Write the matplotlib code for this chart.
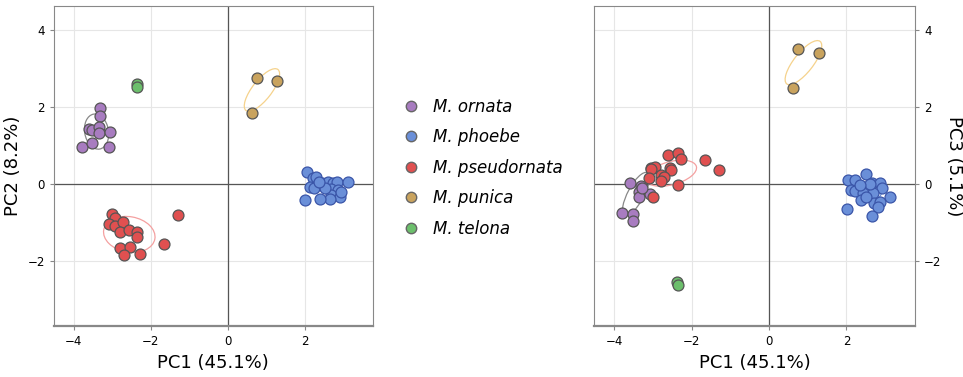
import numpy as np
import matplotlib.pyplot as plt
from matplotlib.patches import Ellipse
from matplotlib.lines import Line2D

species = ['M. ornata', 'M. phoebe', 'M. pseudornata', 'M. punica', 'M. telona']
colors = ['#a87cc0', '#6a8fd8', '#e05050', '#c9a35e', '#6cbf6c']
edges = ['#555555', '#3a55a8', '#555555', '#555555', '#555555']
ell_colors = ['#888888', '#6a8fd8', '#f4a0a0', '#f5d28c', '#6cbf6c']

# PC1 / PC2 scores
pc1_ornata = [-3.31, -3.32, -3.61, -3.52, -3.35, -3.35, -3.05, -3.80, -3.52, -3.09]
pc2_ornata = [1.98, 1.77, 1.42, 1.40, 1.47, 1.33, 1.35, 0.97, 1.06, 0.95]
pc1_phoebe = [2.05, 2.22, 2.29, 2.13, 2.25, 2.44, 2.61, 2.74, 2.85, 3.13, 2.69, 2.88,
              2.69, 2.91, 2.65, 2.39, 2.02, 2.52, 2.37, 2.95]
pc2_phoebe = [0.31, 0.15, 0.19, -0.07, -0.11, 0.02, 0.06, 0.03, 0.06, 0.05, -0.14, -0.16,
              -0.29, -0.33, -0.40, -0.39, -0.42, -0.11, 0.06, -0.20]
pc1_pseud = [-3.00, -2.92, -3.09, -2.94, -2.72, -2.79, -2.57, -2.36, -2.36, -2.79, -2.53,
             -2.70, -2.27, -1.65, -1.30]
pc2_pseud = [-0.79, -0.89, -1.04, -1.09, -0.98, -1.24, -1.19, -1.24, -1.37, -1.67, -1.63,
             -1.84, -1.83, -1.56, -0.81]
pc1_punica = [0.75, 1.29, 0.63]
pc2_punica = [2.74, 2.67, 1.85]
pc1_telona = [-2.37, -2.35]
pc2_telona = [2.60, 2.53]

# PC1 / PC3 scores
pc1b_ornata = [-3.59, -3.31, -3.35, -3.35, -3.07, -3.80, -3.52, -3.52, -3.05, -3.28]
pc3_ornata = [0.03, -0.05, -0.20, -0.33, -0.27, -0.76, -0.78, -0.95, 0.41, -0.10]
pc1b_phoebe = [2.05, 2.22, 2.50, 2.65, 2.87, 2.91, 2.13, 2.22, 2.44, 2.69, 2.39, 3.13,
               2.71, 2.88, 2.83, 2.02, 2.65, 2.62, 2.35, 2.52]
pc3_phoebe = [0.10, 0.10, 0.25, 0.02, 0.02, -0.10, -0.16, -0.17, -0.24, -0.23, -0.42, -0.33,
              -0.50, -0.46, -0.59, -0.65, -0.82, 0.00, -0.03, -0.33]
pc1b_pseud = [-2.60, -2.34, -2.27, -1.65, -1.30, -2.94, -3.05, -2.57, -2.53, -2.79, -2.72,
              -2.79, -3.09, -2.36, -3.00]
pc3_pseud = [0.75, 0.80, 0.64, 0.61, 0.36, 0.45, 0.38, 0.41, 0.35, 0.23, 0.19, 0.08, 0.15,
             -0.03, -0.35]
pc1b_punica = [0.75, 1.29, 0.63]
pc3_punica = [3.51, 3.40, 2.50]
pc1b_telona = [-2.37, -2.35]
pc3_telona = [-2.54, -2.61]

# ellipses: (cx, cy, width, height, angle)
ell_pc2 = [(-3.41, 1.36, 0.62, 0.92, 10), (2.58, -0.05, 0.7, 0.3, 0),
           (-2.56, -1.31, 1.35, 0.92, -10), (0.89, 2.44, 1.35, 0.5, 52), None]
ell_pc3 = [(-3.44, -0.26, 1.25, 0.42, 62), (2.56, -0.2, 0.7, 0.5, 0),
           (-2.53, 0.28, 1.35, 0.6, 15), (0.89, 3.15, 1.4, 0.5, 52), None]

fig = plt.figure(figsize=(9.63, 3.77), dpi=100)
ax1 = fig.add_axes([0.056, 0.135, 0.331, 0.849])
ax2 = fig.add_axes([0.617, 0.135, 0.333, 0.849])

sets1 = [(pc1_ornata, pc2_ornata), (pc1_phoebe, pc2_phoebe), (pc1_pseud, pc2_pseud),
         (pc1_punica, pc2_punica), (pc1_telona, pc2_telona)]
sets2 = [(pc1b_ornata, pc3_ornata), (pc1b_phoebe, pc3_phoebe), (pc1b_pseud, pc3_pseud),
         (pc1b_punica, pc3_punica), (pc1b_telona, pc3_telona)]

for ax, sets, ells in [(ax1, sets1, ell_pc2), (ax2, sets2, ell_pc3)]:
    ax.set_axisbelow(True)
    ax.grid(True, color='#e6e6e6', linewidth=0.8)
    ax.axhline(0, color='#555555', linewidth=0.9, zorder=1.8)
    ax.axvline(0, color='#555555', linewidth=0.9, zorder=1.8)
    for i, (xs, ys) in enumerate(sets):
        if ells[i] is not None:
            cx, cy, w, h, a = ells[i]
            ax.add_patch(Ellipse((cx, cy), w, h, angle=a, fill=False,
                                 edgecolor=ell_colors[i], linewidth=0.9, zorder=2))
        ax.scatter(xs, ys, s=62, color=colors[i], edgecolor=edges[i],
                   linewidth=0.9, zorder=3)
    ax.set_xlim(-4.52, 3.77)
    ax.set_ylim(-3.69, 4.62)
    ax.set_xticks([-4, -2, 0, 2])
    ax.set_yticks([-2, 0, 2, 4])
    ax.tick_params(labelsize=8.5, length=3, color='#888888')
    for s in ax.spines.values():
        s.set_color('#888888')
    ax.spines['bottom'].set_linewidth(1.6)
    ax.set_xlabel('PC1 (45.1%)', fontsize=13)

ax1.set_ylabel('PC2 (8.2%)', fontsize=13)
ax2.yaxis.tick_right()
ax2.yaxis.set_label_position('right')
ax2.set_ylabel('PC3 (5.1%)', fontsize=13, rotation=270, labelpad=16)

handles = [Line2D([], [], marker='o', linestyle='', markersize=7.5,
                  markerfacecolor=c, markeredgecolor='#666666') for c in colors]
fig.legend(handles, species, loc='center', bbox_to_anchor=(0.497, 0.555), frameon=False,
           prop={'style': 'italic', 'size': 12}, handletextpad=0.3, labelspacing=0.75)

fig.savefig('out.png', dpi=100)
